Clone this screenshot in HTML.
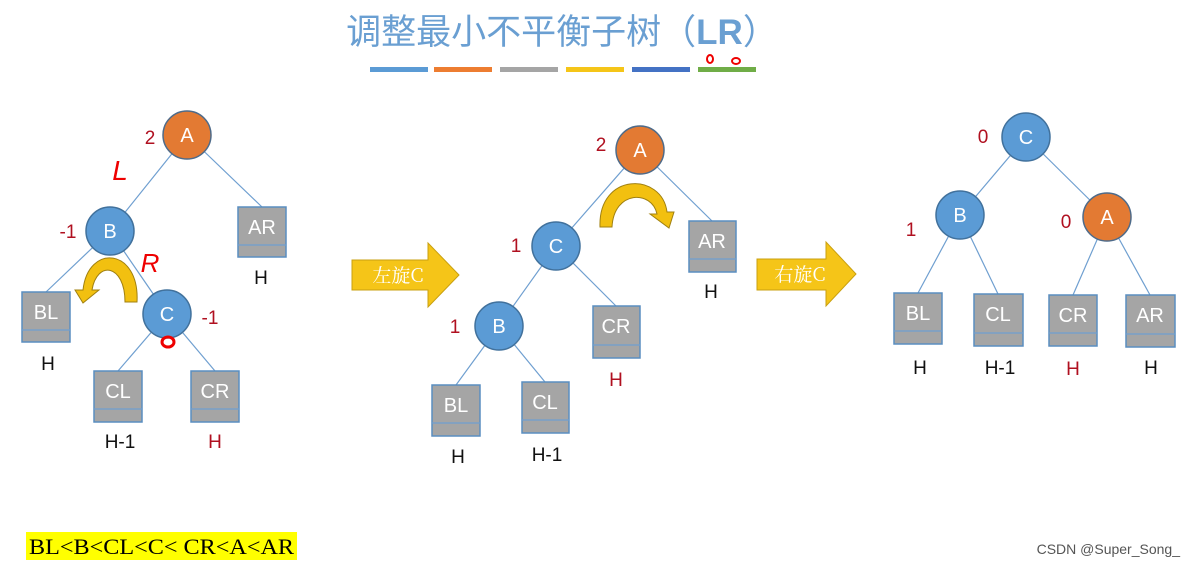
<!DOCTYPE html>
<html><head><meta charset="utf-8"><style>
body{margin:0;background:#fff;}
svg{display:block;font-family:"Liberation Sans","Noto Sans CJK SC",sans-serif;}
.c{stroke:#41719c;stroke-width:1.5;fill:#5b9bd5}
.o{stroke:#4e6b8a;stroke-width:1.5;fill:#e37a33}
.b{fill:#a5a5a5;stroke:#5a8ec0;stroke-width:1.5}
.l{stroke:#6f9fd0;stroke-width:1.2}
.w{fill:#fff;font-size:20px;text-anchor:middle}
.r{fill:#b01020;font-size:19px;text-anchor:middle}
.k{fill:#111;font-size:19px;text-anchor:middle}
</style></head><body>
<svg width="1197" height="566" viewBox="0 0 1197 566">
<text x="562" y="44" font-size="35" fill="#6a9fd2" text-anchor="middle" font-family="'Noto Sans CJK SC',sans-serif">调整最小不平衡子树（<tspan font-family="Liberation Sans" font-weight="bold">LR</tspan>）</text>
<rect x="370" y="67" width="58" height="5" fill="#5b9bd5"/>
<rect x="434" y="67" width="58" height="5" fill="#ed7d31"/>
<rect x="500" y="67" width="58" height="5" fill="#a5a5a5"/>
<rect x="566" y="67" width="58" height="5" fill="#f5c518"/>
<rect x="632" y="67" width="58" height="5" fill="#4472c4"/>
<rect x="698" y="67" width="58" height="5" fill="#70ad47"/>
<ellipse cx="710" cy="59" rx="3" ry="4" fill="none" stroke="#e00" stroke-width="2"/>
<ellipse cx="736" cy="61" rx="4" ry="3" fill="none" stroke="#e00" stroke-width="2"/>

<g>
<line class="l" x1="187" y1="135" x2="110" y2="231"/><line class="l" x1="187" y1="135" x2="262" y2="207"/>
<line class="l" x1="110" y1="231" x2="46" y2="292"/><line class="l" x1="110" y1="231" x2="167" y2="314"/>
<line class="l" x1="167" y1="314" x2="118" y2="371"/><line class="l" x1="167" y1="314" x2="215" y2="371"/>
<circle class="o" cx="187" cy="135" r="24"/><text class="w" x="187" y="142">A</text>
<circle class="c" cx="110" cy="231" r="24"/><text class="w" x="110" y="238">B</text>
<circle class="c" cx="167" cy="314" r="24"/><text class="w" x="167" y="321">C</text>
<rect class="b" x="238" y="207" width="48" height="50"/><line class="l" x1="238" y1="245" x2="286" y2="245"/><text class="w" x="262" y="234">AR</text>
<rect class="b" x="22" y="292" width="48" height="50"/><line class="l" x1="22" y1="330" x2="70" y2="330"/><text class="w" x="46" y="319">BL</text>
<rect class="b" x="94" y="371" width="48" height="51"/><line class="l" x1="94" y1="409" x2="142" y2="409"/><text class="w" x="118" y="398">CL</text>
<rect class="b" x="191" y="371" width="48" height="51"/><line class="l" x1="191" y1="409" x2="239" y2="409"/><text class="w" x="215" y="398">CR</text>
<text class="r" x="150" y="144">2</text><text class="r" x="68" y="238">-1</text><text class="r" x="210" y="324">-1</text>
<text class="k" x="261" y="284">H</text><text class="k" x="48" y="370">H</text><text class="k" x="120" y="448">H-1</text><text class="r" x="215" y="448">H</text>
<path d="M125,302 C125,264 97,260 92,290 L99,290 L83,303 L75,290 L83,290 C88,243 140,248 137,302Z" fill="#f2c010" stroke="#a08010"/>
<text x="120" y="180" font-size="28" fill="#e00" font-style="italic" text-anchor="middle">L</text>
<text x="150" y="272" font-size="26" fill="#e00" font-style="italic" text-anchor="middle">R</text>
<ellipse cx="168" cy="342" rx="6" ry="5" fill="none" stroke="#e00" stroke-width="3"/>
</g>

<path d="M352,260 H428 V243 L459,275 L428,307 V290 H352Z" fill="#f5c518" stroke="#c9a010"/>
<text x="398" y="282" font-size="19" fill="#fff" text-anchor="middle" font-family="'Noto Serif CJK SC',serif">左旋C</text>
<path d="M757,259 H826 V242 L856,274 L826,306 V290 H757Z" fill="#f5c518" stroke="#c9a010"/>
<text x="800" y="281" font-size="19" fill="#fff" text-anchor="middle" font-family="'Noto Serif CJK SC',serif">右旋C</text>

<g>
<line class="l" x1="640" y1="150" x2="556" y2="246"/><line class="l" x1="640" y1="150" x2="712" y2="221"/>
<line class="l" x1="556" y1="246" x2="499" y2="326"/><line class="l" x1="556" y1="246" x2="616" y2="306"/>
<line class="l" x1="499" y1="326" x2="456" y2="385"/><line class="l" x1="499" y1="326" x2="545" y2="382"/>
<circle class="o" cx="640" cy="150" r="24"/><text class="w" x="640" y="157">A</text>
<circle class="c" cx="556" cy="246" r="24"/><text class="w" x="556" y="253">C</text>
<circle class="c" cx="499" cy="326" r="24"/><text class="w" x="499" y="333">B</text>
<rect class="b" x="689" y="221" width="47" height="51"/><line class="l" x1="689" y1="259" x2="736" y2="259"/><text class="w" x="712" y="248">AR</text>
<rect class="b" x="593" y="306" width="47" height="52"/><line class="l" x1="593" y1="345" x2="640" y2="345"/><text class="w" x="616" y="333">CR</text>
<rect class="b" x="432" y="385" width="48" height="51"/><line class="l" x1="432" y1="423" x2="480" y2="423"/><text class="w" x="456" y="412">BL</text>
<rect class="b" x="522" y="382" width="47" height="51"/><line class="l" x1="522" y1="420" x2="569" y2="420"/><text class="w" x="545" y="409">CL</text>
<text class="r" x="601" y="151">2</text><text class="r" x="516" y="252">1</text><text class="r" x="455" y="333">1</text>
<text class="k" x="711" y="298">H</text><text class="r" x="616" y="386">H</text><text class="k" x="458" y="463">H</text><text class="k" x="547" y="461">H-1</text>
<path d="M600,227 C598,172 662,172 667,212 L674,212 L669,228 L650,214 L657,214 C652,190 614,190 612,227Z" fill="#f2c010" stroke="#a08010"/>
</g>

<g>
<line class="l" x1="1026" y1="137" x2="960" y2="215"/><line class="l" x1="1026" y1="137" x2="1107" y2="217"/>
<line class="l" x1="960" y1="215" x2="918" y2="293"/><line class="l" x1="960" y1="215" x2="998" y2="294"/>
<line class="l" x1="1107" y1="217" x2="1073" y2="295"/><line class="l" x1="1107" y1="217" x2="1150" y2="295"/>
<circle class="c" cx="1026" cy="137" r="24"/><text class="w" x="1026" y="144">C</text>
<circle class="c" cx="960" cy="215" r="24"/><text class="w" x="960" y="222">B</text>
<circle class="o" cx="1107" cy="217" r="24"/><text class="w" x="1107" y="224">A</text>
<rect class="b" x="894" y="293" width="48" height="51"/><line class="l" x1="894" y1="331" x2="942" y2="331"/><text class="w" x="918" y="320">BL</text>
<rect class="b" x="974" y="294" width="49" height="52"/><line class="l" x1="974" y1="333" x2="1023" y2="333"/><text class="w" x="998" y="321">CL</text>
<rect class="b" x="1049" y="295" width="48" height="51"/><line class="l" x1="1049" y1="333" x2="1097" y2="333"/><text class="w" x="1073" y="322">CR</text>
<rect class="b" x="1126" y="295" width="49" height="52"/><line class="l" x1="1126" y1="334" x2="1175" y2="334"/><text class="w" x="1150" y="322">AR</text>
<text class="r" x="983" y="143">0</text><text class="r" x="911" y="236">1</text><text class="r" x="1066" y="228">0</text>
<text class="k" x="920" y="374">H</text><text class="k" x="1000" y="374">H-1</text><text class="r" x="1073" y="375">H</text><text class="k" x="1151" y="374">H</text>
</g>

<rect x="26" y="532" width="271" height="28" fill="#ffff00"/>
<text x="29" y="554" font-size="22" fill="#000" textLength="265" lengthAdjust="spacingAndGlyphs" font-family="'Liberation Serif',serif">BL&lt;B&lt;CL&lt;C&lt; CR&lt;A&lt;AR</text>
<text x="1180" y="554" font-size="14" fill="#555" text-anchor="end">CSDN @Super_Song_</text>
</svg>
</body></html>
